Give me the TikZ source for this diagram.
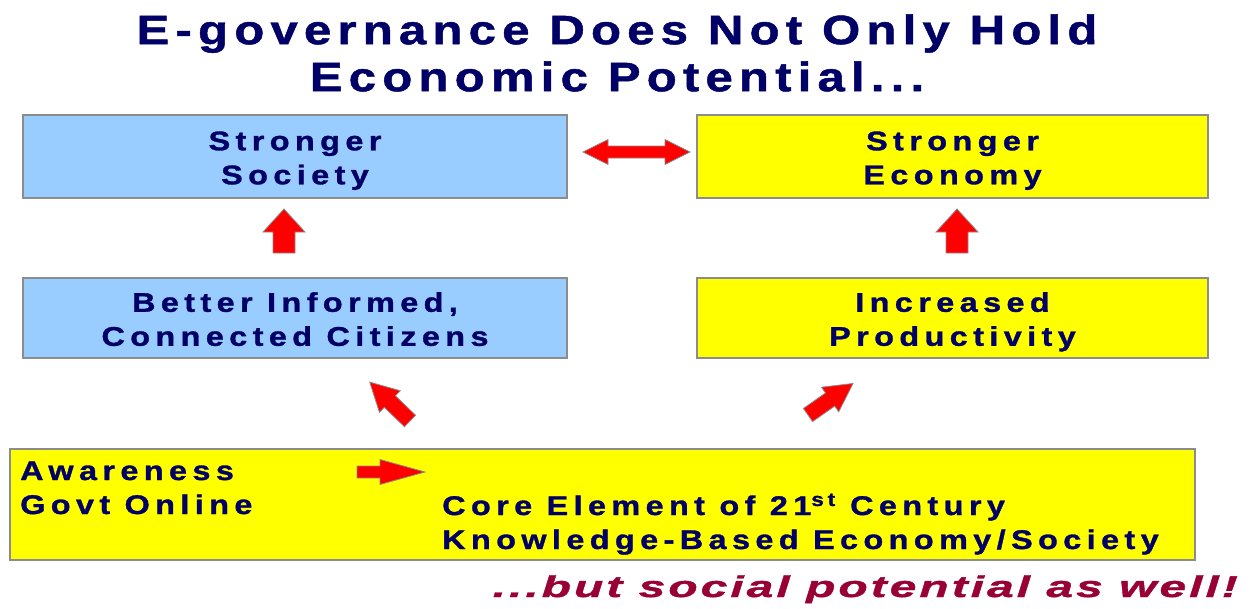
\documentclass[tikz,border=0pt]{standalone}
\usepackage{fontspec}
\setmainfont{Liberation Sans}
\newfontfamily\titlefont[LetterSpace=15, FakeStretch=1.2, FakeBold=1.2]{Liberation Sans}
\newfontfamily\boxfont[LetterSpace=20, FakeStretch=1.2, FakeBold=1.2]{Liberation Sans}
\newfontfamily\tagfont[LetterSpace=10, FakeStretch=1.6, FakeBold=1.2]{Liberation Sans}
\definecolor{navy}{HTML}{000066}
\definecolor{skyfill}{HTML}{99CCFF}
\definecolor{yelfill}{HTML}{FFFF00}
\definecolor{bordergray}{HTML}{8C8C8C}
\definecolor{tagred}{HTML}{990033}
\definecolor{arrred}{HTML}{FF0000}
\tikzset{
  box/.style={draw=bordergray, line width=1.5pt, minimum width=#1, inner sep=0pt},
  bluebox/.style={box=544, fill=skyfill, minimum height=83},
  yelbox/.style={box=511, fill=yelfill, minimum height=83},
  boxtext/.style={text=navy, font=\boxfont\bfseries\fontsize{27}{34}\selectfont, align=center, inner sep=0pt},
  blockarr/.style={fill=arrred, draw=bordergray, line width=0.8pt, line join=miter},
}
% block arrow: #1 tail point, #2 angle, #3 length, #4 head length, #5 head half width, #6 shaft half width, #7 name
\newcommand\myblk[7]{%
  \begin{scope}[shift={(#1)}, rotate=#2]
    \draw[blockarr] (0,-#6) -- ({#3-#4},-#6) -- ({#3-#4},-#5) -- (#3,0) -- ({#3-#4},#5) -- ({#3-#4},#6) -- (0,#6) -- cycle;
    \coordinate (#7) at (0,0);
  \end{scope}}
% double block arrow: #1 left tip, #2 length, #3 head length, #4 head half, #5 shaft half, #6 name
\newcommand\mydbl[6]{%
  \begin{scope}[shift={(#1)}]
    \draw[blockarr] (0,0) -- (#3,-#4) -- (#3,-#5) -- ({#2-#3},-#5) -- ({#2-#3},-#4) -- (#2,0) -- ({#2-#3},#4) -- ({#2-#3},#5) -- (#3,#5) -- (#3,#4) -- cycle;
    \coordinate (#6) at (0,0);
  \end{scope}}
\begin{document}
\begin{tikzpicture}[x=1pt, y=-1pt]
\useasboundingbox[fill=white] (0,0) rectangle (1250,608);
% title
\node[text=navy, font=\titlefont\bfseries\fontsize{41}{47}\selectfont, align=center] (title) at (617,53)
  {E-governance Does Not Only Hold\\Economic Potential...};
% boxes
\node[bluebox] (society) at (295,156.5) {};
\node[boxtext] (societytext) at ([yshift=-4pt]society.center) {\strut Stronger\\\strut Society};
\node[yelbox] (economy) at (952.5,156.5) {};
\node[boxtext] (economytext) at ([yshift=-4pt]economy.center) {\strut Stronger\\\strut Economy};
\node[bluebox, minimum height=80] (citizens) at (295,318) {};
\node[boxtext] (citizenstext) at ([yshift=-4pt]citizens.center) {\strut Better Informed,\\\strut Connected Citizens};
\node[yelbox, minimum height=80] (productivity) at (952.5,318) {};
\node[boxtext] (productivitytext) at ([yshift=-4pt]productivity.center) {\strut Increased\\\strut Productivity};
\node[box=1185, fill=yelfill, minimum height=111] (core) at (602.5,504.5) {};
\node[boxtext, align=left, anchor=base west] (awareness) at (20,514) {Awareness\\Govt Online};
\node[boxtext, align=left, anchor=base west] (coretext) at (442,549) {Core Element of 21\textsuperscript{st} Century\\Knowledge-Based Economy/Society};
% tagline
\node[text=tagred, font=\tagfont\bfseries\itshape\fontsize{30}{36}\selectfont, anchor=base east, inner sep=0pt] (tag) at (1238,597)
  {...but social potential as well!};
% arrows
\mydbl{583,152}{107}{25}{12.5}{6}{dblarrow}
\myblk{284,253}{90}{44}{23}{21}{11}{upleft}
\myblk{957,253}{90}{44}{23}{21}{11}{upright}
\myblk{410,421}{136}{56}{28}{15}{8}{diagleft}
\myblk{808,415}{35}{55}{28}{15}{8}{diagright}
\myblk{357,472}{0}{68}{45}{12.5}{6}{rightarr}
\end{tikzpicture}
\end{document}
